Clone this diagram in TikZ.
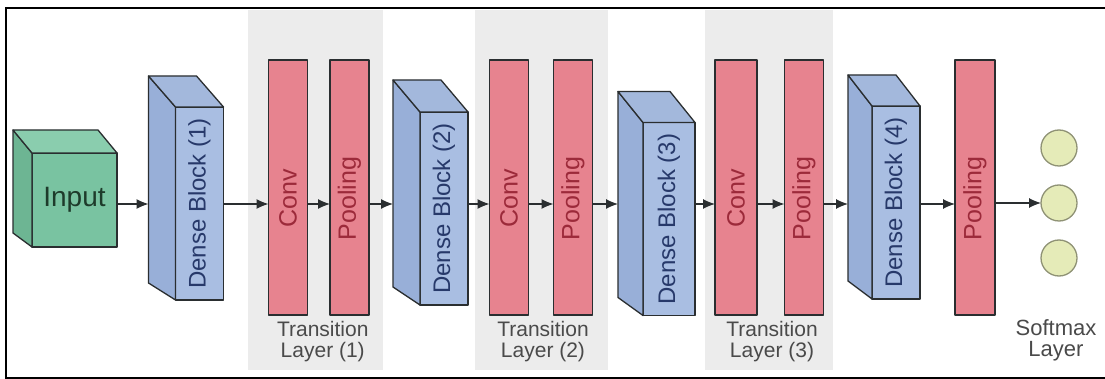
\documentclass[tikz,border=0pt]{standalone}
\usepackage{fontspec}
\setmainfont{Liberation Sans}
\usetikzlibrary{arrows.meta,calc}

\definecolor{edge}{HTML}{2A2E30}
\definecolor{greenfront}{HTML}{79C3A1}
\definecolor{greentop}{HTML}{8ACDAE}
\definecolor{greenside}{HTML}{6DB593}
\definecolor{greentext}{HTML}{1E3B2B}
\definecolor{bluefront}{HTML}{A9BEE2}
\definecolor{bluetop}{HTML}{A3B8DC}
\definecolor{blueside}{HTML}{98AFD8}
\definecolor{bluetext}{HTML}{27396A}
\definecolor{barred}{HTML}{E7838F}
\definecolor{redtext}{HTML}{9C2A3A}
\definecolor{transgray}{HTML}{ECECEC}
\definecolor{softfill}{HTML}{E5EBB8}
\definecolor{softedge}{HTML}{8F9275}
\definecolor{captext}{HTML}{4A4A4A}

% side and top faces of a prism whose front face is node #1
\newcommand\prismfaces[5]{%
  \draw[facebox, fill=#5side] (#1.north west) -- ++(#2,#3)
    -- ([shift={(#2,#4)}]#1.south west) -- (#1.south west) -- cycle;
  \draw[facebox, fill=#5top] (#1.north west) -- ++(#2,#3)
    -- ([shift={(#2,#3)}]#1.north east) -- (#1.north east) -- cycle;
}

\begin{document}
\begin{tikzpicture}[x=1pt,y=-1pt,
  facebox/.style={draw=edge, line width=1.3pt, line join=round},
  box/.style={facebox, inner sep=0pt, outer sep=0pt},
  inputface/.style={box, fill=greenfront, minimum width=85pt, minimum height=94pt,
    text=greentext, font=\fontsize{28}{28}\selectfont},
  denseface/.style={box, fill=bluefront, minimum width=48pt, minimum height=193pt},
  densetext/.style={rotate=90, text=bluetext, font=\fontsize{24}{24}\selectfont},
  redbar/.style={box, fill=barred, minimum width=39pt, minimum height=255pt},
  bartext/.style={rotate=90, text=redtext, font=\fontsize{25}{25}\selectfont},
  transbg/.style={fill=transgray, draw=none},
  caption/.style={align=center, text=captext, font=\fontsize{21}{21}\selectfont},
  outunit/.style={circle, draw=softedge, fill=softfill, line width=1.3pt,
    minimum size=36pt, inner sep=0pt, outer sep=0pt},
  arr/.style={draw=edge, line width=1.2pt, -{Latex[length=12pt,width=10pt]}}]

\useasboundingbox (0,0) rectangle (1105,379);
\fill[white] (0,0) rectangle (1105,379);

% shaded groups of the transition layers
\fill[transbg] (248,10) rectangle (383,370);
\fill[transbg] (475,10) rectangle (608,370);
\fill[transbg] (705,10) rectangle (833,370);

% arrow row
\coordinate (row) at (0,204);

% input cube
\node[inputface] (in) at (74.5,200) {Input};
\prismfaces{in}{-19}{-23}{-14}{green}

% dense blocks
\node[denseface] (d1) at (199.5,203.5) {};
\prismfaces{d1}{-27}{-31}{-17}{blue}
\node[densetext] at (d1) {Dense Block (1)};

\node[denseface] (d2) at (444,208.5) {};
\prismfaces{d2}{-27}{-32}{-18}{blue}
\node[densetext] at (d2) {Dense Block (2)};

\node[denseface, minimum width=52pt] (d3) at (669,219) {};
\prismfaces{d3}{-25}{-31}{-18}{blue}
\node[densetext] at (d3) {Dense Block (3)};

\node[denseface] (d4) at (896,202.5) {};
\prismfaces{d4}{-24}{-31}{-18}{blue}
\node[densetext] at (d4) {Dense Block (4)};

% convolution and pooling bars
\node[redbar] (c1) at (288,187.5) {};
\node[redbar] (p1) at (349.5,187.5) {};
\node[redbar] (c2) at (509,187.5) {};
\node[redbar] (p2) at (573,187.5) {};
\node[redbar, minimum width=42pt] (c3) at (736,187.5) {};
\node[redbar] (p3) at (804,187.5) {};
\node[redbar, minimum width=40pt] (p4) at (975,187.5) {};

\foreach \b/\t in {c1/Conv,p1/Pooling,c2/Conv,p2/Pooling,c3/Conv,p3/Pooling,p4/Pooling}
  \node[bartext] at ([yshift=-11pt]\b.center) {\t};

% transition layer captions
\node[caption] (t1) at ($($(c1.south)!0.5!(p1.south)$)+(4,27)$) {Transition\\Layer (1)};
\node[caption] (t2) at ($($(c2.south)!0.5!(p2.south)$)+(2,27)$) {Transition\\Layer (2)};
\node[caption] (t3) at ($($(c3.south)!0.5!(p3.south)$)+(2,27)$) {Transition\\Layer (3)};

% softmax output units
\node[outunit] (o1) at (1059,148) {};
\node[outunit] (o2) at (1059,203) {};
\node[outunit] (o3) at (1059,258) {};
\node[caption, font=\fontsize{22}{21}\selectfont] (sm) at ($(o3.center)+(-3,82)$) {Softmax\\Layer};

% connectors
\draw[arr] (in.east |- row) -- ($(d1.west |- row)+(-27,0)$);
\draw[arr] (d1.east |- row) -- (c1.west |- row);
\draw[arr] (c1.east |- row) -- (p1.west |- row);
\draw[arr] (p1.east |- row) -- ($(d2.west |- row)+(-27,0)$);
\draw[arr] (d2.east |- row) -- (c2.west |- row);
\draw[arr] (c2.east |- row) -- (p2.west |- row);
\draw[arr] (p2.east |- row) -- ($(d3.west |- row)+(-25,0)$);
\draw[arr] (d3.east |- row) -- (c3.west |- row);
\draw[arr] (c3.east |- row) -- (p3.west |- row);
\draw[arr] (p3.east |- row) -- ($(d4.west |- row)+(-24,0)$);
\draw[arr] (d4.east |- row) -- (p4.west |- row);
\draw[arr] (p4.east |- o2) -- (o2.west);

% frame
\draw[line width=2pt] (1105,8) -- (6,8) -- (6,378) -- (1105,378);

\end{tikzpicture}
\end{document}
